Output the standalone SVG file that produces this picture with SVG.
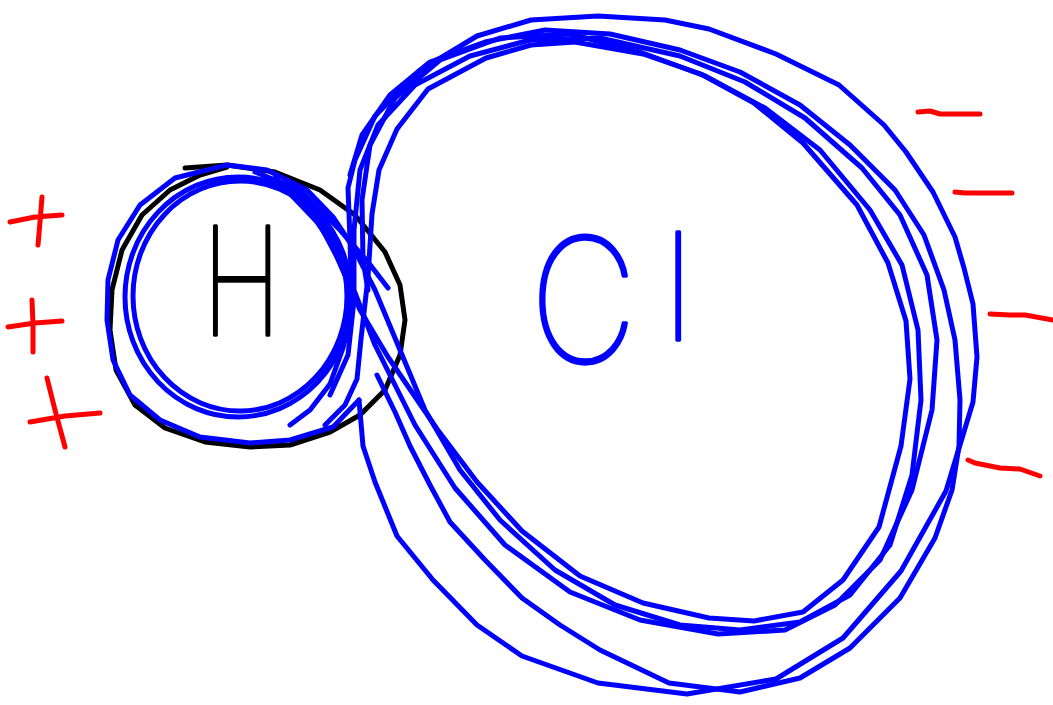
<svg xmlns="http://www.w3.org/2000/svg" width="1053" height="705" viewBox="0 0 1053 705">
<style>
.s{fill:none;stroke-width:5;stroke-linecap:round;stroke-linejoin:round}
.b{stroke:#0000ff}
.k{stroke:#000000}
.r{stroke:#ff0000}
.t{font-family:"Inter","Liberation Sans",sans-serif;font-weight:100;stroke-width:3.5;stroke-linejoin:round}
</style>
<rect width="1053" height="705" fill="#ffffff"/>
<g id="h-atom">
<path class="s k" d="M185,168 L227,165 L275,172 L320,190 L355,215 L385,252 L400,285 L405,320 L400,355 L385,390 L360,415 L330,432 L290,445 L250,447 L205,442 L165,428 L135,405 L116,370 L110,330 L112,290 L122,250 L142,215 L170,190 L200,175 L227,167"/>
<text class="t" x="0" y="0" font-size="150" fill="#000000" stroke="#000000" transform="translate(202,335) scale(0.72,1)">H</text>
</g>
<g id="cl-atom">
<text class="t" x="0" y="0" font-size="172" fill="#0000ff" stroke="#0000ff" transform="translate(530,362) scale(0.86,1)">C<tspan dx="32" dy="-22" font-size="148">l</tspan></text>
</g>
<g id="electron-cloud">
<ellipse class="s b" cx="238" cy="297" rx="113" ry="120"/>
<ellipse class="s b" cx="240" cy="296" rx="107" ry="115"/>
<path class="s b" d="M359,400 L333,427 L290,440 L250,443 L200,437 L160,420 L130,395 L113,360 L107,320 L108,280 L118,240 L140,205 L175,178 L227,165 L267,170 L307,190 L333,217 L353,247 L375,290 L400,350 L425,410 L460,470 L500,520 L555,570 L615,605 L680,625 L740,630 L800,622 L850,595 L890,545 L912,475 L921,400 L918,330 L902,265 L870,210 L820,150 L765,108 L705,76 L640,52 L570,34 L500,38 L440,60 L395,98 L370,145 L362,200 L363,260 L368,290"/>
<path class="s b" d="M359,400 L363,446 L375,482 L397,536 L433,580 L477,625 L522,656 L598,683 L687,694 L776,679 L843,638 L901,571 L946,491 L973,402 L977,357 L973,304 L964,268 L955,237 L933,192 L906,152 L884,125 L839,85 L776,54 L709,29 L665,20 L598,16 L531,20 L477,36 L419,71 L375,116 L355,160 L348,188 L350,240 L352,312 L343,348 L330,384 L310,410 L290,425"/>
<path class="s b" d="M290,182 L330,241 L360,310 L388,357 L437,429 L477,482 L522,531 L580,576 L643,603 L709,618 L754,621 L803,612 L843,580 L879,527 L901,446 L910,379 L906,321 L888,263 L857,205 L803,143 L754,103 L701,74 L643,54 L575,42 L531,45 L486,58 L428,89 L397,129 L379,170 L372,214 L368,277 L361,339 L357,379 L345,405 L325,425"/>
<path class="s b" d="M275,178 L320,225 L352,285 L375,345 L415,425 L455,488 L505,545 L570,592 L640,620 L718,634 L785,630 L835,605 L880,560 L912,490 L932,410 L937,340 L927,275 L900,215 L862,168 L805,118 L745,82 L680,56 L600,38 L530,40 L470,56 L415,85 L378,125 L360,170 L354,230 L354,300 L348,355 L330,395"/>
<path class="s b" d="M377,375 L395,412 L410,446 L430,485 L450,522 L485,560 L522,598 L560,625 L600,650 L669,683 L740,692 L800,678 L850,648 L900,598 L935,538 L952,490 L959,446 L960,400 L955,340 L944,290 L924,235 L895,190 L850,145 L800,105 L740,72 L680,50 L610,34 L545,30 L485,42 L430,62 L390,95 L362,135 L350,175"/>
<path class="s b" d="M255,172 L300,190 L340,230 L368,262 L388,288"/>
</g>
<g id="charges">
<path class="s r" d="M10,222 L35,217 L62,215 M42,197 L40,222 L38,245"/>
<path class="s r" d="M8,327 L35,323 L62,321 M32,300 L33,325 L33,352"/>
<path class="s r" d="M30,422 L65,416 L100,413 M47,378 L55,410 L65,447"/>
<path class="s r" d="M918,112 L930,111 L940,114 L980,114"/>
<path class="s r" d="M955,192 L965,193 L1012,193"/>
<path class="s r" d="M990,314 L1010,315 L1025,315 L1053,320"/>
<path class="s r" d="M968,460 L975,463 L1000,468 L1020,469 L1040,476"/>
</g>
</svg>
